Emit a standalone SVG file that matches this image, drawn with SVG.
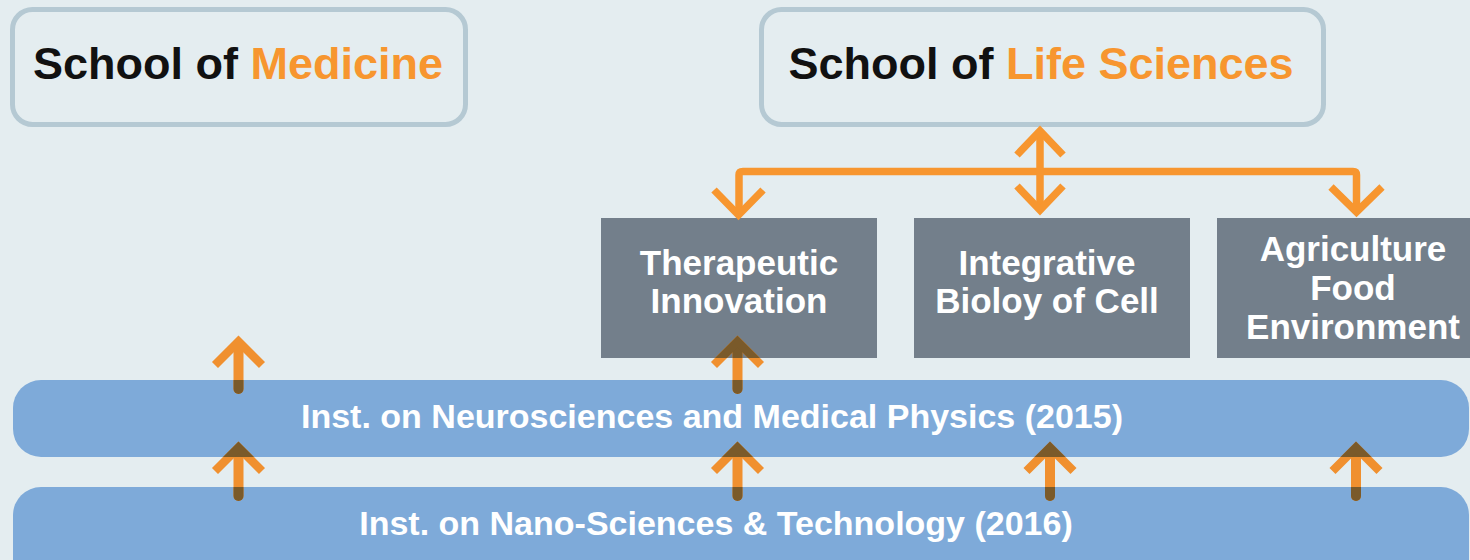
<svg xmlns="http://www.w3.org/2000/svg" width="1470" height="560" viewBox="0 0 1470 560">
<style>
.bg{fill:#e4edf0}
.school{fill:#e4edf0;stroke:#b5c9d3;stroke-width:5}
.st{font-family:"Liberation Sans",Arial,sans-serif;font-weight:bold;font-size:45px;fill:#111111;text-anchor:middle}
.or{fill:#f7962f}
.gbox{fill:#737f8b}
.gt{font-family:"Liberation Sans",Arial,sans-serif;font-weight:bold;font-size:35px;fill:#ffffff;text-anchor:middle}
.bar{fill:#7eaad9}
.bt{font-family:"Liberation Sans",Arial,sans-serif;font-weight:bold;font-size:34px;fill:#ffffff;text-anchor:middle}
.conn{fill:none;stroke:#f7962f;stroke-width:7.5;stroke-linejoin:miter;stroke-linecap:butt}
.sh{fill:none;stroke-width:10;stroke-linecap:round}
.hd{fill:none;stroke-width:8.5;stroke-linecap:butt;stroke-linejoin:miter}
.upo{stroke:#f0902f;fill:none}
.upd{stroke:#7a5a2a;fill:none}
</style>
<defs>
<clipPath id="overlap">
<rect x="13" y="380" width="1456" height="77" rx="28"/>
<rect x="13" y="487" width="1456" height="110" rx="28"/>
<rect x="601" y="218" width="276" height="140"/>
</clipPath>
<g id="arrows">
<path class="sh" d="M238.5,389 V345"/><path class="hd" d="M215,365 L238.5,341.5 L262,365"/>
<path class="sh" d="M238.5,496 V452"/><path class="hd" d="M215,471 L238.5,447.5 L262,471"/>
<path class="sh" d="M737.5,389 V345"/><path class="hd" d="M714,365 L737.5,341.5 L761,365"/>
<path class="sh" d="M737.5,496 V452"/><path class="hd" d="M714,471 L737.5,447.5 L761,471"/>
<path class="sh" d="M1050,496 V452"/><path class="hd" d="M1026.5,471 L1050,447.5 L1073.5,471"/>
<path class="sh" d="M1356,496 V452"/><path class="hd" d="M1332.5,471 L1356,447.5 L1379.5,471"/>
</g>
</defs>
<rect class="bg" x="0" y="0" width="1470" height="560"/>

<g id="medicine">
<rect class="school" x="12.5" y="9.5" width="453" height="115" rx="20"/>
<text class="st" x="238" y="79">School of <tspan class="or">Medicine</tspan></text>
</g>
<g id="lifesciences">
<rect class="school" x="761.5" y="9.5" width="562" height="115" rx="20"/>
<text class="st" x="1041" y="79">School of <tspan class="or">Life Sciences</tspan></text>
</g>

<g id="neuro">
<rect class="bar" x="13" y="380" width="1456" height="77" rx="28"/>
</g>
<g id="nano">
<rect class="bar" x="13" y="487" width="1456" height="110" rx="28"/>
</g>

<g id="therapeutic">
<rect class="gbox" x="601" y="218" width="276" height="140"/>
<text class="gt" x="739" y="275">Therapeutic</text>
<text class="gt" x="739" y="313">Innovation</text>
</g>
<g id="integrative">
<rect class="gbox" x="914" y="218" width="276" height="140"/>
<text class="gt" x="1047" y="275">Integrative</text>
<text class="gt" x="1047" y="313">Bioloy of Cell</text>
</g>
<g id="agriculture">
<rect class="gbox" x="1217" y="218" width="253" height="140"/>
<text class="gt" x="1353" y="261">Agriculture</text>
<text class="gt" x="1353" y="300">Food</text>
<text class="gt" x="1353" y="339">Environment</text>
</g>

<g id="connectors">
<path class="conn" d="M739,213 V175 Q739,171.5 743,171.5 H1353 Q1356.5,171.5 1356.5,175 V211"/>
<path class="conn" d="M1040,131 V207"/>
<path class="conn" d="M1017,155 L1040,131 L1063,155"/>
<path class="conn" d="M1017,186 L1040,210 L1063,186"/>
<path class="conn" d="M714,190 L738.5,215 L763,190"/>
<path class="conn" d="M1331,187 L1356.5,212 L1382,187"/>
<use class="upo" href="#arrows"/>
<use class="upd" href="#arrows" clip-path="url(#overlap)"/>
</g>

<text class="bt" x="712" y="428">Inst. on Neurosciences and Medical Physics (2015)</text>
<text class="bt" x="716" y="535">Inst. on Nano-Sciences &amp; Technology (2016)</text>
</svg>
